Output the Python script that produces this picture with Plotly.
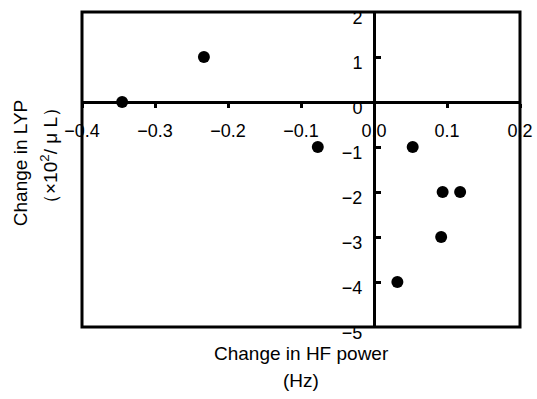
import plotly.graph_objects as go

# Data
hf_change = [-0.345, -0.233, -0.077, 0.053, 0.094, 0.118, 0.092, 0.032]
lyp_change = [0.0, 1.0, -1.0, -1.0, -2.0, -2.0, -3.0, -4.0]

x_ticks = [-0.4, -0.3, -0.2, -0.1, 0.0, 0.1, 0.2]
x_ticktext = ["−0.4", "−0.3", "−0.2", "−0.1", "0.0", "0.1", "0.2"]
y_ticks = [2, 1, 0, -1, -2, -3, -4, -5]
y_ticktext = ["2", "1", "0", "−1", "−2", "−3", "−4", "−5"]

x_range = [-0.4, 0.2]
y_range = [-5, 2]

x_title_lines = ["Change in HF power", "(Hz)"]
y_title_lines = ["Change in LYP", "（×10<sup>2</sup>/ μ L）"]

FONT = "Liberation Sans, Arial, sans-serif"

fig = go.Figure()
fig.add_trace(go.Scatter(
    x=hf_change, y=lyp_change, mode="markers",
    marker=dict(color="black", size=12, line=dict(width=0)),
    showlegend=False, cliponaxis=False,
))

# positions of the zero-crossing axes in paper coordinates
x_axis_pos = (0 - y_range[0]) / (y_range[1] - y_range[0])
y_axis_pos = (0 - x_range[0]) / (x_range[1] - x_range[0])

fig.update_layout(
    width=537, height=399,
    margin=dict(l=82, r=17, t=12, b=72, autoexpand=False),
    paper_bgcolor="white", plot_bgcolor="white",
    font=dict(family=FONT, color="black", size=18),
    xaxis=dict(
        range=x_range, tickvals=x_ticks, ticktext=x_ticktext,
        showgrid=False, zeroline=False, automargin=False,
        showline=True, linecolor="black", linewidth=3,
        anchor="free", position=x_axis_pos,
        ticks="outside", ticklen=4, tickwidth=3, tickcolor="black",
        ticklabelstandoff=7, ticklabeloverflow="allow",
        tickfont=dict(size=18, family=FONT),
    ),
    yaxis=dict(
        range=y_range, tickvals=y_ticks, ticktext=y_ticktext,
        showgrid=False, zeroline=False, automargin=False,
        showline=True, linecolor="black", linewidth=3,
        anchor="free", position=y_axis_pos,
        ticks="inside", ticklen=5, tickwidth=3, tickcolor="black",
        ticklabelstandoff=7, ticklabelshift=6, ticklabeloverflow="allow",
        tickfont=dict(size=18, family=FONT),
    ),
    shapes=[dict(type="rect", xref="paper", yref="paper",
                 x0=0, x1=1, y0=0, y1=1,
                 line=dict(color="black", width=3))],
    annotations=[
        dict(text=x_title_lines[0], xref="paper", yref="paper", x=0.5, y=-0.083,
             xanchor="center", yanchor="middle", showarrow=False,
             font=dict(size=19, family=FONT)),
        dict(text=x_title_lines[1], xref="paper", yref="paper", x=0.5, y=-0.171,
             xanchor="center", yanchor="middle", showarrow=False,
             font=dict(size=19, family=FONT)),
        dict(text=y_title_lines[0], xref="paper", yref="paper", x=-0.1416, y=0.52,
             xanchor="center", yanchor="middle", showarrow=False,
             textangle=-90, font=dict(size=19, family=FONT)),
        dict(text=y_title_lines[1], xref="paper", yref="paper", x=-0.0753, y=0.543,
             xanchor="center", yanchor="middle", showarrow=False,
             textangle=-90, font=dict(size=19, family=FONT)),
    ],
)

fig.write_html("out.html")
